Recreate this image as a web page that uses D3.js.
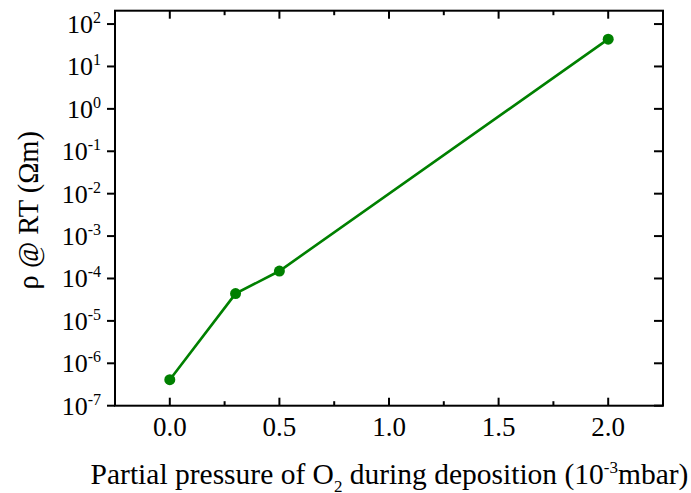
<!DOCTYPE html>
<html lang="en">
<head>
<meta charset="UTF-8">
<title>Resistivity vs O2 partial pressure</title>
<style>
  body { margin: 0; background: #fff; }
  text { font-family: "Liberation Serif", "Times New Roman", serif; fill: #000; }
</style>
</head>
<body>
<svg width="691" height="493"></svg>
<script src="https://d3js.org/d3.v7.min.js"></script>
<script>
// data
var pressure = [0.0, 0.3, 0.5, 2.0];
var resistivity = [4.1e-7, 4.4e-5, 1.5e-4, 44];
var xTicks = [0.0, 0.5, 1.0, 1.5, 2.0];
var xMinor = [-0.25, 0.25, 0.75, 1.25, 1.75, 2.25];
var yExponents = [-7, -6, -5, -4, -3, -2, -1, 0, 1, 2];

var svg = d3.select("svg");
var mLeft = 115, mRight = 663, mTop = 10.7, mBottom = 405.7;

var x = d3.scaleLinear().domain([-0.25, 2.25]).range([mLeft, mRight]);
var y = d3.scaleLog().domain([1e-7, Math.pow(10, 2.315)]).range([mBottom, mTop]);

var axisW = 2;

// frame
svg.append("rect")
  .attr("x", mLeft).attr("y", mTop)
  .attr("width", mRight - mLeft).attr("height", mBottom - mTop)
  .attr("fill", "none").attr("stroke", "#000").attr("stroke-width", axisW);

var ticks = svg.append("g").attr("stroke", "#000").attr("stroke-width", axisW);

// bottom ticks (inward) and top ticks (inward)
xTicks.forEach(function(v) {
  ticks.append("line").attr("x1", x(v)).attr("x2", x(v)).attr("y1", mBottom).attr("y2", mBottom - 8);
  ticks.append("line").attr("x1", x(v)).attr("x2", x(v)).attr("y1", mTop).attr("y2", mTop + 8);
});
xMinor.forEach(function(v) {
  ticks.append("line").attr("x1", x(v)).attr("x2", x(v)).attr("y1", mBottom).attr("y2", mBottom - 4.5);
  ticks.append("line").attr("x1", x(v)).attr("x2", x(v)).attr("y1", mTop).attr("y2", mTop + 4.5);
});

// left ticks (outward), right ticks (inward)
yExponents.forEach(function(e) {
  var yy = y(Math.pow(10, e));
  ticks.append("line").attr("x1", mLeft).attr("x2", mLeft - 8).attr("y1", yy).attr("y2", yy);
  ticks.append("line").attr("x1", mRight).attr("x2", mRight - 9).attr("y1", yy).attr("y2", yy);
});

// x tick labels
svg.append("g").selectAll("text")
  .data(xTicks).enter().append("text")
  .attr("x", function(d) { return x(d); })
  .attr("y", 436)
  .attr("text-anchor", "middle")
  .style("font-size", "27px")
  .text(function(d) { return d.toFixed(1); });

// y tick labels: 10^n
var yl = svg.append("g").selectAll("text")
  .data(yExponents).enter().append("text")
  .attr("x", 101)
  .attr("y", function(d) { return y(Math.pow(10, d)) + 9; })
  .attr("text-anchor", "end")
  .style("font-size", "26px");
yl.append("tspan").text("10");
yl.append("tspan").attr("dy", -10).style("font-size", "16px").text(function(d) { return d; });

// axis titles
var xt = svg.append("text")
  .attr("x", (mLeft + mRight) / 2 + 0.5)
  .attr("y", 484)
  .attr("text-anchor", "middle")
  .style("font-size", "29.5px");
xt.append("tspan").text("Partial pressure of O");
xt.append("tspan").attr("dy", 8).style("font-size", "17px").text("2");
xt.append("tspan").attr("dy", -8).text(" during deposition (10");
xt.append("tspan").attr("dy", -11).style("font-size", "17px").text("-3");
xt.append("tspan").attr("dy", 11).text("mbar)");

svg.append("text")
  .attr("transform", "translate(38," + ((mTop + mBottom) / 2 + 2) + ") rotate(-90)")
  .attr("text-anchor", "middle")
  .style("font-size", "28.5px")
  .text("ρ @ RT (Ωm)");

// series
var pts = pressure.map(function(p, i) { return [p, resistivity[i]]; });
svg.append("path")
  .datum(pts)
  .attr("fill", "none")
  .attr("stroke", "#008000")
  .attr("stroke-width", 2.6)
  .attr("d", d3.line().x(function(d) { return x(d[0]); }).y(function(d) { return y(d[1]); }));

svg.append("g").selectAll("circle")
  .data(pts).enter().append("circle")
  .attr("cx", function(d) { return x(d[0]); })
  .attr("cy", function(d) { return y(d[1]); })
  .attr("r", 5.5)
  .attr("fill", "#008000");
</script>
</body>
</html>
